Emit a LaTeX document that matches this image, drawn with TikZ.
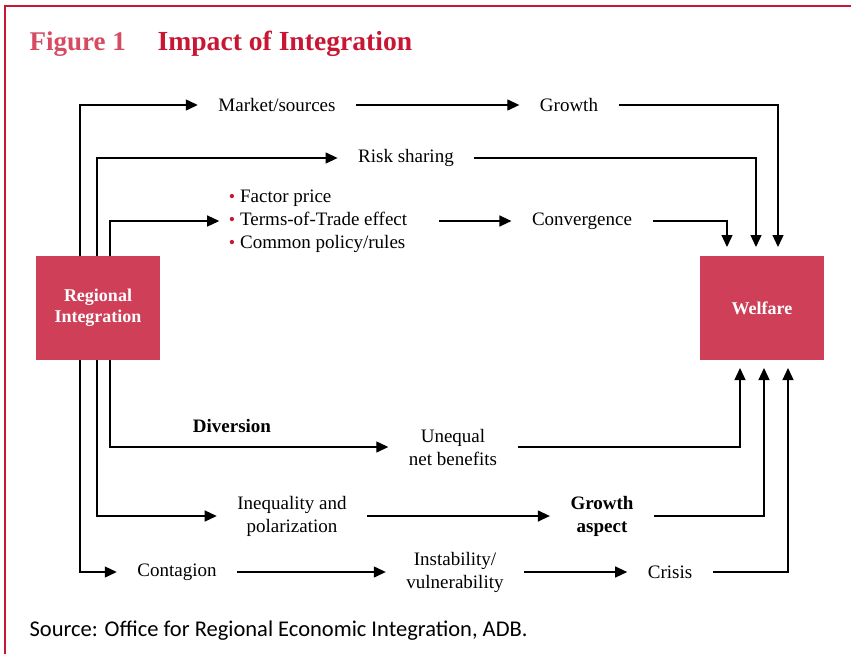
\documentclass[tikz,border=0pt]{standalone}
\usepackage{fontspec}
\setmainfont{Liberation Serif}
\newfontfamily\srcfont{Carlito}
\usetikzlibrary{arrows.meta}
\definecolor{adbred}{RGB}{200,22,52}
\definecolor{boxred}{RGB}{207,64,88}
\definecolor{figred}{RGB}{214,74,98}
\newcommand{\bul}{{\color{adbred}\fontsize{18}{18}\selectfont\textbullet}\hspace{5pt}}
\tikzset{
  lbl/.style={inner xsep=20pt, inner ysep=2pt, align=center, font=\fontsize{19}{23}\selectfont},
  bigbox/.style={fill=boxred, text=white, minimum width=124pt, minimum height=104pt,
    align=center, font=\fontsize{18}{21}\selectfont\bfseries},
  arr/.style={-{Triangle[length=12pt,width=11pt]}}
}
\begin{document}
\begin{tikzpicture}[x=1pt,y=-1pt,line width=1.3pt]
\useasboundingbox (0,0) rectangle (851,654);
\draw[adbred,line width=1.5pt] (5,654) -- (5,6) -- (851,6);
\node[anchor=base west,inner sep=0pt,text=figred,font=\fontsize{27}{30}\selectfont\bfseries] (fig) at (29,50) {Figure 1};
\node[anchor=base west,inner sep=0pt,text=adbred,font=\fontsize{27.6}{30}\selectfont\bfseries] (ttl) at (157,50) {Impact of Integration};
\node[bigbox] (ri) at (98,308) {Regional\\Integration};
\node[bigbox] (wf) at (762,308) {Welfare};
% top row
\node[lbl] (mkt) at (277,105) {Market/sources};
\node[lbl] (grw) at (569,105) {Growth};
\node[lbl] (risk) at (406,158) {Risk sharing};
\node[lbl,align=left,inner xsep=9pt] (fac) at (318,221) {\bul Factor price\\\bul Terms-of-Trade effect\\\bul Common policy/rules};
\node[lbl] (conv) at (582,221) {Convergence};
% bottom rows
\node[lbl,font=\fontsize{19}{23}\selectfont\bfseries] (div) at (232,426) {Diversion};
\node[lbl] (uneq) at (453,447) {Unequal\\net benefits};
\node[lbl] (ineq) at (292,516) {Inequality and\\polarization};
\node[lbl,font=\fontsize{19}{23}\selectfont\bfseries] (gasp) at (602,516) {Growth\\aspect};
\node[lbl] (cont) at (177,572) {Contagion};
\node[lbl] (inst) at (455,572) {Instability/\\vulnerability};
\node[lbl] (cris) at (670,572) {Crisis};
\node[anchor=base west,inner sep=0pt,font=\srcfont\fontsize{22.5}{26}\selectfont] (src) at (29,636) {Source: Office for Regional Economic Integration, ADB.};
% trunk ends
\coordinate (ua) at (80,256); \coordinate (ub) at (97,256); \coordinate (uc) at (110,256);
\coordinate (da) at (80,360); \coordinate (db) at (97,360); \coordinate (dc) at (110,360);
\coordinate (wa1) at (727,247); \coordinate (wa2) at (756,247); \coordinate (wa3) at (778,247);
\coordinate (wb1) at (740,368); \coordinate (wb2) at (764,368); \coordinate (wb3) at (788,368);
\draw[arr] (ua) |- (mkt);
\draw[arr] (mkt) -- (grw);
\draw[arr] (grw) -| (wa3);
\draw[arr] (ub) |- (risk);
\draw[arr] (risk) -| (wa2);
\draw[arr] (uc) |- (fac);
\draw[arr,shorten <=22pt] (fac) -- (conv);
\draw[arr] (conv) -| (wa1);
\draw[arr] (dc) |- (uneq);
\draw[arr] (uneq) -| (wb1);
\draw[arr] (db) |- (ineq);
\draw[arr] (ineq) -- (gasp);
\draw[arr] (gasp) -| (wb2);
\draw[arr] (da) |- (cont);
\draw[arr] (cont) -- (inst);
\draw[arr] (inst) -- (cris);
\draw[arr] (cris) -| (wb3);
\end{tikzpicture}
\end{document}
